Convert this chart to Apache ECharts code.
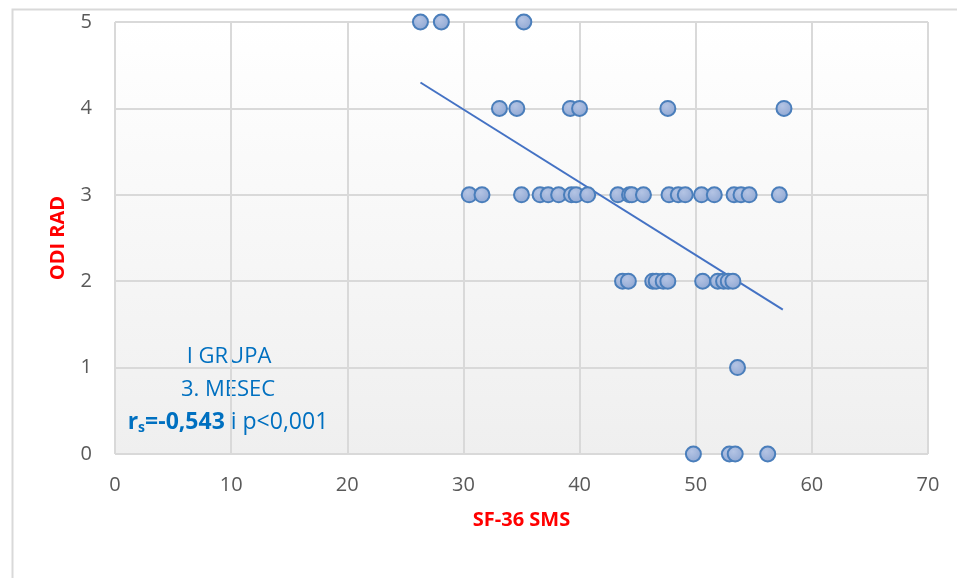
<!DOCTYPE html>
<html>
<head>
<meta charset="utf-8">
<script src="https://cdn.jsdelivr.net/npm/echarts@6/dist/echarts.min.js"></script>
<style>
  html, body { margin: 0; padding: 0; background: #fff; }
  #chart { width: 957px; height: 578px; }
</style>
</head>
<body>
<div id="chart"></div>
<script>
// podaci procitani sa slike
var odi5 = [26.3, 28.1, 35.2];
var odi4 = [33.1, 34.6, 39.2, 40.0, 47.6, 57.6];
var odi3 = [30.5, 31.6, 35.0, 36.6, 37.3, 38.2, 39.3, 39.7, 40.7, 43.3, 44.3, 44.5,
            45.5, 47.7, 48.5, 49.1, 50.5, 51.6, 53.3, 53.9, 54.6, 57.2];
var odi2 = [43.7, 44.2, 46.3, 46.6, 47.2, 47.6, 50.6, 51.9, 52.4, 52.8, 53.2];
var odi1 = [53.6];
var odi0 = [49.8, 52.9, 53.4, 56.2];

var trendX = [26.3, 57.5];
var trendY = [4.3, 1.67];

var xTicks = [0, 10, 20, 30, 40, 50, 60, 70];
var yTicks = [0, 1, 2, 3, 4, 5];

var groups = [[odi0, 0], [odi1, 1], [odi2, 2], [odi3, 3], [odi4, 4], [odi5, 5]];
var points = [];
groups.forEach(function (g) {
    g[0].forEach(function (x) { points.push([x, g[1]]); });
});

var chart = echarts.init(document.getElementById('chart'));

var blue = '#0070c0';

var option = {
    backgroundColor: '#fff',
    animation: false,
    grid: {
        left: 115, right: 29, top: 22, bottom: 124,
        show: true,
        borderWidth: 0,
        backgroundColor: new echarts.graphic.LinearGradient(0, 0, 0, 1, [
            { offset: 0, color: '#ffffff' },
            { offset: 1, color: '#efefef' }
        ])
    },
    xAxis: {
        type: 'value',
        min: xTicks[0], max: xTicks[xTicks.length - 1], interval: 10,
        axisLine: { show: false },
        axisTick: { show: false },
        splitLine: { lineStyle: { color: '#d9d9d9', width: 2 } },
        axisLabel: { color: '#595959', fontSize: 20, fontFamily: 'Open Sans', margin: 21 },
        name: 'SF-36 SMS',
        nameLocation: 'middle',
        nameGap: 56,
        nameTextStyle: { color: '#ff0000', fontWeight: 'bold', fontSize: 20, fontFamily: 'Open Sans' }
    },
    yAxis: {
        type: 'value',
        min: yTicks[0], max: yTicks[yTicks.length - 1], interval: 1,
        axisLine: { show: false },
        axisTick: { show: false },
        splitLine: { lineStyle: { color: '#d9d9d9', width: 2 } },
        axisLabel: { color: '#595959', fontSize: 20, fontFamily: 'Open Sans', margin: 23 },
        name: 'ODI RAD',
        nameLocation: 'middle',
        nameGap: 47,
        nameRotate: 90,
        nameTextStyle: { color: '#ff0000', fontWeight: 'bold', fontSize: 20, fontFamily: 'Open Sans' }
    },
    graphic: [
        {
            type: 'rect', left: 10, top: 7, silent: true,
            shape: { width: 960, height: 600 },
            style: { fill: 'none', stroke: '#d9d9d9', lineWidth: 2 }
        },
        {
            type: 'text', x: 229, y: 357, silent: true,
            style: { text: 'I GRUPA', fill: blue, fontSize: 22, fontFamily: 'Open Sans', align: 'center', verticalAlign: 'middle' }
        },
        {
            type: 'text', x: 228, y: 390, silent: true,
            style: { text: '3. MESEC', fill: blue, fontSize: 22, fontFamily: 'Open Sans', align: 'center', verticalAlign: 'middle' }
        },
        {
            type: 'text', x: 228, y: 422, silent: true,
            style: {
                text: '{b|r}{s|s}{b|=-0,543}{n| i p<0,001}',
                fill: blue, fontSize: 23, fontFamily: 'Open Sans',
                align: 'center', verticalAlign: 'middle',
                rich: {
                    b: { fill: blue, fontSize: 23, fontWeight: 'bold', fontFamily: 'Open Sans' },
                    n: { fill: blue, fontSize: 23, fontFamily: 'Open Sans' },
                    s: { fill: blue, fontSize: 14, fontWeight: 'bold', fontFamily: 'Open Sans', padding: [13, 0, 0, 0] }
                }
            }
        }
    ],
    series: [
        {
            type: 'line',
            data: [[trendX[0], trendY[0]], [trendX[1], trendY[1]]],
            showSymbol: false,
            lineStyle: { color: '#4472c4', width: 2 },
            z: 3
        },
        {
            type: 'scatter',
            data: points,
            symbolSize: 15,
            itemStyle: {
                color: new echarts.graphic.RadialGradient(0.4, 0.35, 0.7, [
                    { offset: 0, color: '#b4c4e4' },
                    { offset: 1, color: '#8ea6d2' }
                ]),
                borderColor: '#4a7ebb',
                borderWidth: 2,
                opacity: 1
            },
            z: 4
        }
    ]
};

chart.setOption(option);
</script>
</body>
</html>
